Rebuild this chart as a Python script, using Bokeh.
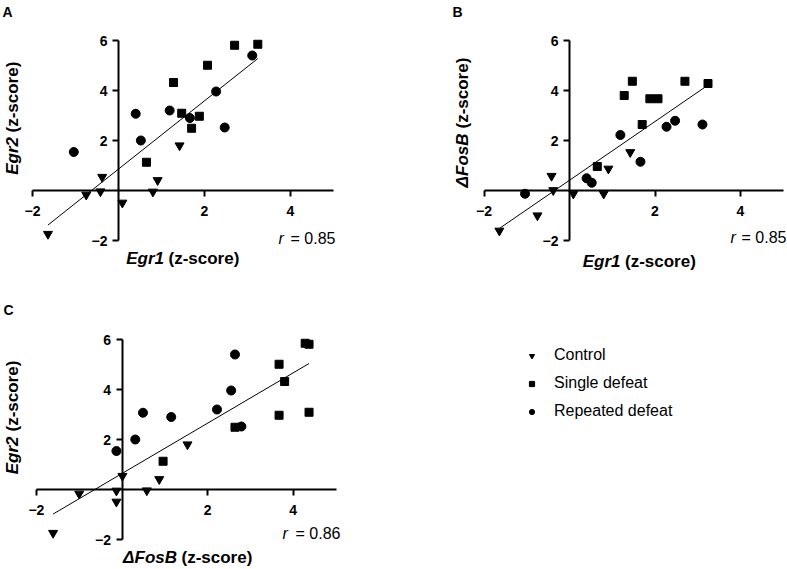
import numpy as np
from bokeh.plotting import figure
from bokeh.models import LinearAxis, FixedTicker, Range1d, Label, Legend, LegendItem
from bokeh.layouts import column, row
from bokeh.embed import file_html
from bokeh.resources import INLINE

FONT = "Liberation Sans"

# ---------------- data (z-scores per animal) ----------------
groups = ["Control", "Single defeat", "Repeated defeat"]
control_egr1 = [-1.64, -0.75, -0.42, -0.38, 0.09, 0.80, 0.91, 1.42]
control_egr2 = [-1.74, -0.17, -0.04, 0.54, -0.49, -0.05, 0.41, 1.80]
control_fosb = [-1.61, -1.00, 0.58, 0.01, -0.13, -0.13, 0.87, 1.53]
single_egr1 = [0.65, 1.28, 1.47, 1.70, 1.88, 2.07, 2.70, 3.24]
single_egr2 = [1.13, 4.32, 3.09, 2.49, 2.97, 5.01, 5.81, 5.85]
single_fosb = [0.96, 3.80, 4.37, 2.64, 3.67, 3.67, 4.37, 4.28]
repeated_egr1 = [-1.04, 0.40, 0.52, 1.19, 1.66, 2.27, 2.47, 3.11]
repeated_egr2 = [1.54, 3.07, 2.00, 3.20, 2.90, 3.96, 2.52, 5.40]
repeated_fosb = [-0.13, 0.49, 0.31, 2.22, 1.15, 2.55, 2.79, 2.64]
r_values = ["0.85", "0.85", "0.86"]
x_ticks = [-2, 2, 4]
y_ticks = [-2, 2, 4, 6]
x_bounds = (-2, 5)
y_bounds = (-2, 6)

genes = {
    "Egr1": [control_egr1, single_egr1, repeated_egr1],
    "Egr2": [control_egr2, single_egr2, repeated_egr2],
    "ΔFosB": [control_fosb, single_fosb, repeated_fosb],
}
markers = ["inverted_triangle", "square", "circle"]
msizes = [9, 8, 9]

# ---------------- layout geometry (pixels in the page) ----------------
panels = [
    dict(letter="A", xg="Egr1", yg="Egr2", r=r_values[0],
         box=(0, 0, 400, 280), map=(118, 43.0, 190, 25.0),
         letter_pos=(2, 3), xl=(163.5, 168, 258), yl=(12, 136.5, 132),
         rpos=(278, 335, 238)),
    dict(letter="B", xg="Egr1", yg="ΔFosB", r=r_values[1],
         box=(400, 0, 387, 280), map=(569, 42.75, 190, 25.0),
         letter_pos=(452, 3), xl=(620, 624.5, 261), yl=(462, 133, 128),
         rpos=(730, 786, 237)),
    dict(letter="C", xg="ΔFosB", yg="Egr2", r=r_values[2],
         box=(0, 280, 787, 289), map=(121.5, 42.8, 489.0, 25.0),
         letter_pos=(3, 301), xl=(176.5, 181, 557), yl=(12, 436, 431),
         rpos=(282, 340, 533)),
]


def make_panel(spec, with_legend=False):
    ox, oy, W, H = spec["box"]
    cx, kx, cy, ky = spec["map"]
    X = lambda px: (px - cx) / kx
    Y = lambda py: (cy - py) / ky
    p = figure(width=W, height=H, x_range=Range1d(X(ox), X(ox + W)),
               y_range=Range1d(Y(oy + H), Y(oy)), output_backend="svg",
               toolbar_location=None, tools="", x_axis_location=None,
               y_axis_location=None, min_border=0)
    p.outline_line_color = None
    p.xgrid.grid_line_color = None
    p.ygrid.grid_line_color = None

    for loc, ticks, bounds, standoff in (("below", x_ticks, x_bounds, 9),
                                         ("left", y_ticks, y_bounds, 5)):
        ax = LinearAxis(fixed_location=0, ticker=FixedTicker(ticks=ticks), bounds=bounds)
        ax.axis_line_width = 2
        ax.axis_line_color = "black"
        ax.major_tick_line_width = 2
        ax.major_tick_line_color = "black"
        ax.major_tick_out = 6
        ax.major_tick_in = 0
        ax.minor_tick_line_color = None
        ax.major_label_text_font = FONT
        ax.major_label_text_font_style = "bold"
        ax.major_label_text_font_size = "14px"
        ax.major_label_text_color = "black"
        ax.major_label_standoff = standoff
        p.add_layout(ax, loc)

    xs_all, ys_all = [], []
    rends = []
    for gi in range(3):
        xs = genes[spec["xg"]][gi]
        ys = genes[spec["yg"]][gi]
        xs_all += xs
        ys_all += ys
        rr = p.scatter(xs, ys, marker=markers[gi], size=msizes[gi],
                       fill_color="black", line_color="black")
        rends.append(rr)

    slope, intercept = np.polyfit(xs_all, ys_all, 1)
    xf = np.array([min(xs_all), max(xs_all)])
    p.line(xf, slope * xf + intercept, line_color="black", line_width=1)

    def lab(px, py, text, style="bold", size="17px", align="left",
            baseline="middle", angle=0.0):
        p.add_layout(Label(x=X(px), y=Y(py), text=text, text_font=FONT,
                           text_font_style=style, text_font_size=size,
                           text_align=align, text_baseline=baseline,
                           angle=angle, text_color="black"))

    lx, ly = spec["letter_pos"]
    lab(lx, ly, spec["letter"], size="14px", baseline="top")
    j1, j2, yy = spec["xl"]
    lab(j1, yy, spec["xg"], style="bold italic", align="right")
    lab(j2, yy, "(z-score)", style="bold", align="left")
    xx, j1, j2 = spec["yl"]
    lab(xx, j1, spec["yg"], style="bold italic", align="right", angle=np.pi / 2)
    lab(xx, j2, "(z-score)", style="bold", align="left", angle=np.pi / 2)
    r0, r1, ry = spec["rpos"]
    lab(r0, ry, "r", style="italic", size="16px", align="left")
    lab(r1, ry, "= " + spec["r"], style="normal", size="16px", align="right")

    if with_legend:
        items = [LegendItem(label=g, renderers=[rends[i]]) for i, g in enumerate(groups)]
        leg = Legend(items=items, location=(525, 148))
        leg.border_line_color = None
        leg.background_fill_alpha = 0
        leg.margin = 0
        leg.padding = 0
        leg.spacing = 8
        leg.glyph_width = 13
        leg.glyph_height = 13
        leg.label_height = 20
        leg.label_standoff = 16
        leg.label_text_font = FONT
        leg.label_text_font_size = "16px"
        leg.label_text_color = "black"
        p.add_layout(leg, "center")
    return p


pA = make_panel(panels[0])
pB = make_panel(panels[1])
pC = make_panel(panels[2], with_legend=True)

layout = column(row(pA, pB, spacing=0), pC, spacing=0)
open("out.html", "w").write(file_html(layout, INLINE))
